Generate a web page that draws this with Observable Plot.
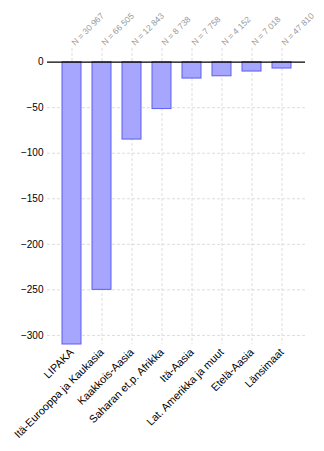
<!DOCTYPE html>
<html>
<head>
<meta charset="utf-8">
<script src="https://cdn.jsdelivr.net/npm/d3@7"></script>
<script src="https://cdn.jsdelivr.net/npm/@observablehq/plot@0.6"></script>
<style>
  html, body { margin: 0; padding: 0; background: #fff; }
  #chart svg { display: block; }
</style>
</head>
<body>
<div id="chart"></div>
<script>
const categories = ["LIPAKA", "Itä-Eurooppa ja Kaukasia", "Kaakkois-Aasia", "Saharan et.p. Afrikka", "Itä-Aasia", "Lat. Amerikka ja muut", "Etelä-Aasia", "Länsimaat"];
const values = [-310, -250, -85, -51.5, -18, -15.5, -10.3, -7];
const nLabels = ["N = 30 967", "N = 66 505", "N = 12 843", "N = 8 738", "N = 7 758", "N = 4 152", "N = 7 018", "N = 47 810"];
const yTicks = [0, -50, -100, -150, -200, -250, -300];

const data = categories.map((c, i) => ({cat: c, value: values[i], n: nLabels[i]}));

const chart = Plot.plot({
  width: 324,
  height: 451,
  marginTop: 48,
  marginBottom: 107,
  marginLeft: 47,
  marginRight: 19,
  style: {fontFamily: "'Liberation Sans', Arial, sans-serif", fontSize: "10px", color: "#000", background: "#fff"},
  x: {domain: categories, paddingInner: 0.38, paddingOuter: 0.39, label: null},
  y: {domain: [-310, 15], label: null},
  marks: [
    Plot.ruleX(categories, {stroke: "#ddd", strokeDasharray: "3,2", strokeWidth: 1}),
    Plot.ruleY(yTicks.filter(d => d !== 0), {stroke: "#ddd", strokeDasharray: "3,2", strokeWidth: 1}),
    Plot.barY(data, {x: "cat", y: "value", fill: "#a6a6ff", stroke: "#5c5cf5", strokeWidth: 1}),
    Plot.ruleY([0], {stroke: "#000", strokeWidth: 1.2}),
    Plot.text(data, {x: "cat", y: 0, text: "n", rotate: -45, textAnchor: "start", dx: 1, dy: -18, fill: "#999", fontSize: 8.5}),
    Plot.axisY({ticks: yTicks, tickSize: 0, tickPadding: 4, label: null, tickFormat: d => d3.format("")(d).replace("-", "\u2212"), fontSize: 10}),
    Plot.axisX({tickSize: 0, tickPadding: 6, tickRotate: -45, label: null, fontSize: 10.8})
  ]
});
document.getElementById("chart").appendChild(chart);
</script>
</body>
</html>
